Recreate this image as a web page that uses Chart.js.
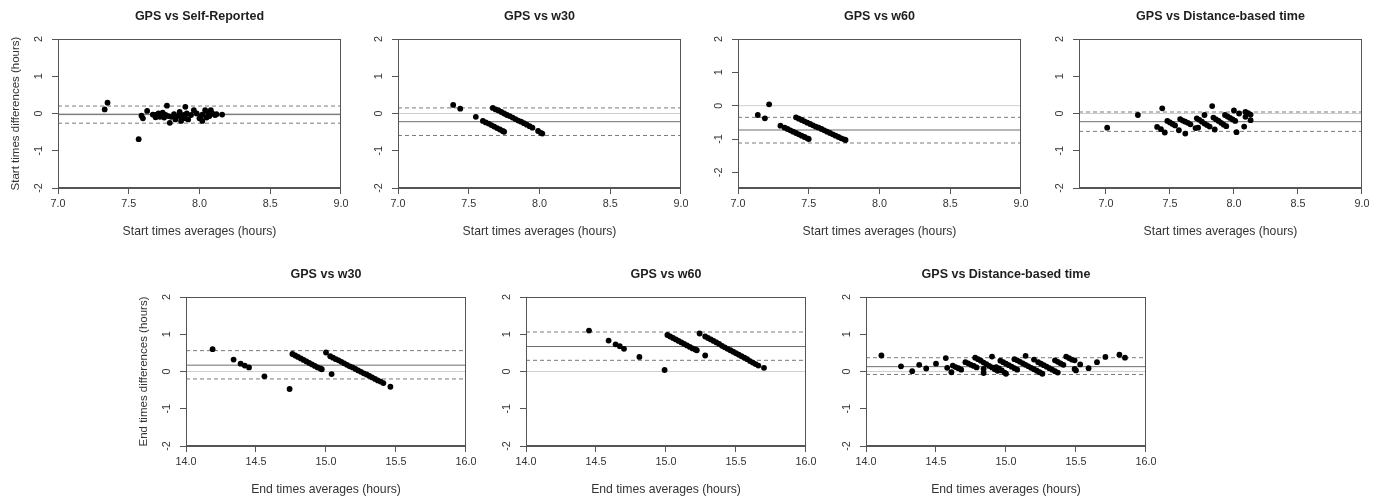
<!DOCTYPE html>
<html lang="en">
<head>
<meta charset="utf-8">
<title>GPS agreement - Bland-Altman plots</title>
<script src="https://cdn.jsdelivr.net/npm/chart.js@4.4.1/dist/chart.umd.min.js"></script>
<style>
  html, body { margin: 0; padding: 0; background: #fff; }
  body { width: 1384px; height: 500px; position: relative; overflow: hidden; }
  canvas { position: absolute; }
</style>
</head>
<body>
<canvas id="p1"></canvas>
<canvas id="p2"></canvas>
<canvas id="p3"></canvas>
<canvas id="p4"></canvas>
<canvas id="p5"></canvas>
<canvas id="p6"></canvas>
<canvas id="p7"></canvas>
<script>
// [average, difference] pairs
var startSelfReported = [[7.33,0.11],[7.35,0.29],[7.57,-0.69],[7.59,-0.06],[7.60,-0.13],[7.63,0.07],[7.67,-0.03],[7.69,-0.04],[7.69,-0.10],[7.71,0.00],
  [7.72,-0.09],[7.73,-0.07],[7.74,0.02],[7.75,-0.11],[7.76,-0.04],[7.77,0.21],[7.78,-0.07],[7.79,-0.25],[7.80,-0.09],[7.82,-0.02],
  [7.83,-0.16],[7.85,-0.07],[7.86,0.04],[7.87,-0.20],[7.88,-0.10],[7.89,-0.04],[7.90,-0.13],[7.90,0.18],[7.91,0.00],[7.92,-0.16],
  [7.94,-0.04],[7.96,0.09],[7.98,0.00],[8.00,-0.13],[8.01,-0.07],[8.02,-0.20],[8.02,-0.03],[8.04,0.09],[8.05,-0.11],[8.06,0.02],
  [8.07,-0.07],[8.08,0.09],[8.09,0.00],[8.11,-0.04],[8.12,-0.02],[8.16,-0.03]];
var startW30 = [[7.39,0.23],[7.44,0.13],[7.55,-0.09],[7.60,-0.20],[7.62,-0.24],
  [7.64,-0.27],[7.66,-0.31],[7.68,-0.35],[7.70,-0.39],[7.72,-0.43],[7.74,-0.47],[7.75,-0.49],
  [7.67,0.15],[7.69,0.11],[7.71,0.08],[7.73,0.04],[7.75,0.00],[7.77,-0.04],[7.79,-0.07],[7.81,-0.11],[7.83,-0.15],
  [7.85,-0.19],[7.87,-0.22],[7.89,-0.26],[7.91,-0.30],[7.93,-0.34],[7.95,-0.38],
  [7.99,-0.47],[8.01,-0.52],[8.02,-0.54]];
var startW60 = [[7.14,-0.28],[7.19,-0.38],[7.22,0.04],[7.30,-0.60],
  [7.33,-0.66],[7.35,-0.70],[7.37,-0.74],[7.39,-0.78],[7.41,-0.82],[7.43,-0.86],[7.45,-0.90],[7.47,-0.94],[7.49,-0.98],[7.50,-1.00],
  [7.41,-0.35],[7.43,-0.39],[7.45,-0.43],[7.47,-0.47],[7.49,-0.51],[7.51,-0.55],[7.53,-0.59],[7.55,-0.63],[7.57,-0.66],
  [7.59,-0.70],[7.61,-0.74],[7.63,-0.78],[7.65,-0.82],[7.67,-0.86],[7.69,-0.90],[7.71,-0.94],[7.73,-0.98],[7.75,-1.01],[7.76,-1.03]];
var startDistance = [[7.01,-0.38],[7.25,-0.04],[7.44,0.14],[7.40,-0.36],[7.43,-0.42],[7.46,-0.51],
  [7.48,-0.20],[7.50,-0.24],[7.52,-0.28],[7.54,-0.32],[7.57,-0.45],
  [7.58,-0.15],[7.60,-0.19],[7.62,-0.22],[7.64,-0.25],[7.66,-0.29],[7.62,-0.54],
  [7.70,-0.39],[7.72,-0.38],
  [7.71,-0.13],[7.73,-0.17],[7.75,-0.22],[7.77,-0.27],[7.79,-0.31],[7.81,-0.35],[7.77,-0.04],[7.83,0.20],
  [7.84,-0.11],[7.86,-0.16],[7.88,-0.20],[7.90,-0.25],[7.92,-0.30],[7.94,-0.34],[7.85,-0.43],
  [7.93,-0.04],[7.95,-0.08],[7.97,-0.12],[7.99,-0.16],[8.01,-0.20],
  [8.00,0.08],[8.04,0.00],[8.02,-0.50],[8.08,-0.35],[8.09,0.04],[8.11,0.01],[8.13,-0.03],[8.13,-0.18],[8.09,-0.09]];
var endW30 = [[14.19,0.60],[14.34,0.32],[14.39,0.21],[14.42,0.16],[14.45,0.11],[14.56,-0.13],[14.74,-0.47],
  [14.76,0.47],[14.78,0.43],[14.80,0.39],[14.82,0.35],[14.84,0.31],[14.86,0.27],[14.88,0.23],[14.90,0.19],[14.92,0.15],[14.94,0.11],[14.96,0.08],[14.97,0.06],
  [15.00,0.51],[15.04,-0.07],
  [15.03,0.41],[15.05,0.37],[15.07,0.33],[15.09,0.30],[15.11,0.26],[15.13,0.22],[15.15,0.18],[15.17,0.14],[15.19,0.11],[15.21,0.07],
  [15.23,0.03],[15.25,-0.01],[15.27,-0.05],[15.29,-0.08],[15.31,-0.12],[15.33,-0.16],[15.35,-0.20],[15.37,-0.24],[15.39,-0.27],[15.41,-0.31],[15.46,-0.41]];
var endW60 = [[14.45,1.10],[14.59,0.83],[14.64,0.73],[14.67,0.68],[14.70,0.61],[14.81,0.39],[14.99,0.04],
  [15.01,0.98],[15.03,0.94],[15.05,0.90],[15.07,0.86],[15.09,0.82],[15.11,0.78],[15.13,0.74],[15.15,0.70],[15.17,0.66],[15.19,0.62],[15.21,0.59],[15.22,0.57],
  [15.24,1.02],[15.28,0.43],
  [15.28,0.94],[15.30,0.90],[15.32,0.86],[15.34,0.82],[15.36,0.78],[15.38,0.74],[15.40,0.69],[15.42,0.65],[15.44,0.61],[15.46,0.57],
  [15.48,0.53],[15.50,0.49],[15.52,0.45],[15.54,0.41],[15.56,0.37],[15.58,0.33],[15.60,0.28],[15.62,0.24],[15.64,0.20],[15.66,0.16],[15.70,0.10]];
var endDistance = [[14.11,0.43],[14.25,0.14],[14.33,0.01],[14.38,0.18],[14.43,0.08],[14.50,0.21],[14.57,0.36],[14.58,0.10],[14.61,-0.02],
  [14.62,0.16],[14.64,0.12],[14.66,0.09],[14.68,0.05],
  [14.71,0.25],[14.73,0.22],[14.75,0.18],[14.77,0.15],[14.79,0.11],
  [14.78,0.37],[14.80,0.33],[14.82,0.29],[14.84,0.24],[14.86,0.20],[14.88,0.15],[14.90,0.11],[14.92,0.06],[14.94,0.02],
  [14.84,0.07],[14.84,-0.04],[14.90,0.40],
  [14.93,0.12],[14.95,0.08],[14.97,0.03],[14.99,-0.03],[15.00,-0.06],
  [14.96,0.29],[14.98,0.25],[15.00,0.21],[15.02,0.17],[15.04,0.13],[15.06,0.09],[15.08,0.05],
  [15.06,0.33],
  [15.08,0.30],[15.10,0.26],[15.12,0.22],[15.14,0.18],[15.16,0.14],[15.18,0.10],[15.20,0.06],[15.22,0.02],[15.24,-0.02],[15.26,-0.06],
  [15.14,0.42],[15.20,0.32],
  [15.23,0.25],[15.25,0.21],[15.27,0.17],[15.29,0.13],[15.31,0.09],[15.33,0.05],[15.35,0.01],[15.37,-0.03],
  [15.35,0.30],[15.37,0.26],[15.39,0.22],[15.41,0.18],
  [15.43,0.40],[15.45,0.36],[15.47,0.32],[15.49,0.30],
  [15.49,0.07],[15.50,0.03],[15.53,0.19],[15.59,0.09],[15.65,0.25],[15.71,0.39],[15.81,0.45],[15.85,0.37]];

// mean difference and limits of agreement, panel by panel
var meanDiff   = [-0.03, -0.22, -0.73, -0.22, 0.17, 0.67, 0.13];
var lowerLimit = [-0.26, -0.59, -1.12, -0.48, -0.20, 0.30, -0.08];
var upperLimit = [ 0.20,  0.15, -0.35,  0.04, 0.56, 1.06, 0.37];

var startTicks = [7.0, 7.5, 8.0, 8.5, 9.0];
var endTicks = [14.0, 14.5, 15.0, 15.5, 16.0];
var diffTicks = [-2, -1, 0, 1, 2];

var panels = [
  { id: 'p1', left: 58,   top: 39,  title: 'GPS vs Self-Reported',       points: startSelfReported, xRange: [7, 9],    yRange: [-2, 2],    xTicks: startTicks, xTitle: 'Start times averages (hours)', yTitle: 'Start times differences (hours)' },
  { id: 'p2', left: 398,  top: 39,  title: 'GPS vs w30',                 points: startW30,          xRange: [7, 9],    yRange: [-2, 2],    xTicks: startTicks, xTitle: 'Start times averages (hours)', yTitle: '' },
  { id: 'p3', left: 738,  top: 39,  title: 'GPS vs w60',                 points: startW60,          xRange: [7, 9],    yRange: [-2.47, 2], xTicks: startTicks, xTitle: 'Start times averages (hours)', yTitle: '' },
  { id: 'p4', left: 1079, top: 39,  title: 'GPS vs Distance-based time', points: startDistance,     xRange: [6.79, 9], yRange: [-2, 2],    xTicks: startTicks, xTitle: 'Start times averages (hours)', yTitle: '' },
  { id: 'p5', left: 186,  top: 297, title: 'GPS vs w30',                 points: endW30,            xRange: [14, 16],  yRange: [-2, 2],    xTicks: endTicks,   xTitle: 'End times averages (hours)',   yTitle: 'End times differences (hours)' },
  { id: 'p6', left: 526,  top: 297, title: 'GPS vs w60',                 points: endW60,            xRange: [14, 16],  yRange: [-2, 2],    xTicks: endTicks,   xTitle: 'End times averages (hours)',   yTitle: '' },
  { id: 'p7', left: 866,  top: 297, title: 'GPS vs Distance-based time', points: endDistance,       xRange: [14, 16],  yRange: [-2, 2],    xTicks: endTicks,   xTitle: 'End times averages (hours)',   yTitle: '' }
];

var FONT = "'Liberation Sans', Arial, Helvetica, sans-serif";
var AXIS_W = 58, TITLE_H = 36, XAXIS_H = 54, PLOT_W = 286, PLOT_H = 149, RIGHT_PAD = 8;
var boxColor = '#555';

Chart.defaults.font.family = FONT;

// closes the plot region like R's box()
var plotBox = {
  id: 'plotBox',
  afterDraw: function(chart) {
    var a = chart.chartArea, ctx = chart.ctx;
    ctx.save();
    ctx.strokeStyle = boxColor;
    ctx.lineWidth = 1;
    ctx.strokeRect(Math.round(a.left) + 0.5, Math.round(a.top) + 0.5, Math.round(a.right - a.left) - 1, Math.round(a.bottom - a.top) - 1);
    ctx.restore();
  }
};

function hline(p, value, color, dash) {
  return {
    data: [{ x: p.xRange[0], y: value }, { x: p.xRange[1], y: value }],
    showLine: true, borderColor: color, borderWidth: 1, borderDash: dash,
    pointRadius: 0, pointHoverRadius: 0
  };
}

panels.forEach(function(p, i) {
  var canvas = document.getElementById(p.id);
  canvas.width = AXIS_W + PLOT_W + RIGHT_PAD;
  canvas.height = TITLE_H + PLOT_H + XAXIS_H;
  canvas.style.left = (p.left - AXIS_W) + 'px';
  canvas.style.top = (p.top - TITLE_H) + 'px';

  var datasets = [
    {
      data: p.points.map(function(d) { return { x: d[0], y: d[1] }; }),
      pointRadius: 2.9, pointHoverRadius: 2.9,
      pointBackgroundColor: '#000', pointBorderWidth: 0
    },
    hline(p, upperLimit[i], '#7a7a7a', [4, 3]),
    hline(p, meanDiff[i], '#6e6e6e', []),
    hline(p, lowerLimit[i], '#7a7a7a', [4, 3]),
    hline(p, 0, '#cfcfcf', [])
  ];

  new Chart(canvas, {
    type: 'scatter',
    data: { datasets: datasets },
    plugins: [plotBox],
    options: {
      responsive: false,
      animation: false,
      events: [],
      layout: { padding: { left: 0, right: RIGHT_PAD, top: 0, bottom: 0 } },
      plugins: {
        legend: { display: false },
        tooltip: { enabled: false },
        title: {
          display: true, text: p.title, fullSize: false, color: '#1e1e1e',
          font: { size: 12.5, weight: 'bold', lineHeight: 1.2 },
          padding: { top: 6.5, bottom: 14.5 }
        }
      },
      scales: {
        x: {
          type: 'linear', min: p.xRange[0], max: p.xRange[1],
          afterFit: function(s) { s.height = XAXIS_H; },
          afterBuildTicks: function(s) { s.ticks = p.xTicks.map(function(v) { return { value: v }; }); },
          ticks: { color: '#333', font: { size: 10.8 }, padding: 3.5, maxRotation: 0, autoSkip: false,
                   callback: function(v) { return Number(v).toFixed(1); } },
          grid: { display: true, drawOnChartArea: false, drawTicks: true, tickLength: 6, tickColor: boxColor },
          border: { display: true, color: boxColor },
          title: { display: true, text: p.xTitle, color: '#333', font: { size: 12.2, lineHeight: 1.2 }, padding: { top: 0, bottom: 2.7 } }
        },
        y: {
          type: 'linear', min: p.yRange[0], max: p.yRange[1],
          afterFit: function(s) { s.width = AXIS_W; },
          afterBuildTicks: function(s) { s.ticks = diffTicks.map(function(v) { return { value: v }; }); },
          ticks: { color: '#333', font: { size: 10.8 }, padding: 8, minRotation: 90, maxRotation: 90,
                   crossAlign: 'center', autoSkip: false,
                   callback: function(v) { return String(v); } },
          grid: { display: true, drawOnChartArea: false, drawTicks: true, tickLength: 6, tickColor: boxColor },
          border: { display: true, color: boxColor },
          title: { display: p.yTitle !== '', text: p.yTitle, color: '#333', font: { size: 11.5, lineHeight: 1.2 }, padding: { top: 9.4, bottom: 0 } }
        }
      }
    }
  });
});
</script>
</body>
</html>
